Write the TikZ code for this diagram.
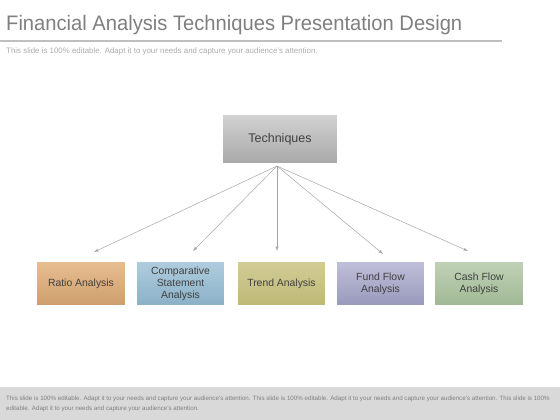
\documentclass[tikz,border=0pt]{standalone}
\usepackage{fontspec}
\setmainfont{Liberation Sans}
\usetikzlibrary{shadows}
\definecolor{titlegray}{HTML}{7F7F7F}
\definecolor{rulegray}{HTML}{BFBFBF}
\definecolor{notegray}{HTML}{ABABAB}
\definecolor{footgray}{HTML}{D9D9D9}
\definecolor{textgray}{HTML}{404040}
\tikzset{
  box/.style={draw=white,line width=1.5pt,minimum width=89pt,minimum height=45pt,
    align=center,text=textgray,font=\fontsize{10.4}{12}\selectfont,
    drop shadow={shadow xshift=0.8pt,shadow yshift=-0.8pt,opacity=0.3}},
  arr/.style={->,>=latex,draw=gray!70,line width=0.5pt}
}
\begin{document}
\begin{tikzpicture}[x=1pt,y=-1pt]
\useasboundingbox (0,0) rectangle (560,420);

% heading
\node[anchor=base west,text=titlegray,font=\fontsize{21}{24}\selectfont,inner sep=0pt] (title) at (6,31) {\scalebox{0.96}[1]{Financial Analysis Techniques Presentation Design}};
\fill[rulegray] (0,40) rectangle (502,42.5);
\node[anchor=base west,text=notegray,font=\fontsize{7.9}{9}\selectfont,inner sep=0pt] (sub) at (6,54) {This slide is 100\% editable. Adapt it to your needs and capture your audience's attention.};

% top box
\node[box,minimum width=116pt,minimum height=50pt,font=\fontsize{12.5}{14}\selectfont,top color=gray!35,bottom color=gray!68] (tech) at (280,139) {Techniques};

% bottom boxes
\node[box,top color={rgb,255:red,232;green,190;blue,146},bottom color={rgb,255:red,205;green,158;blue,108}] (ratio) at (81,283.5) {Ratio Analysis};
\node[box,top color={rgb,255:red,176;green,205;blue,222},bottom color={rgb,255:red,138;green,176;blue,198}] (comp) at (180.5,283.5) {Comparative\\Statement\\Analysis};
\node[box,top color={rgb,255:red,210;green,205;blue,150},bottom color={rgb,255:red,190;green,184;blue,118}] (trend) at (281.5,283.5) {Trend Analysis};
\node[box,top color={rgb,255:red,192;green,192;blue,218},bottom color={rgb,255:red,152;green,152;blue,188}] (fund) at (380.5,283.5) {Fund Flow\\Analysis};
\node[box,top color={rgb,255:red,192;green,210;blue,182},bottom color={rgb,255:red,160;green,184;blue,148}] (cash) at (479,283.5) {Cash Flow\\Analysis};

% arrow ends
\coordinate (eratio) at (94,252);
\coordinate (ecomp) at (193,251);
\coordinate (etrend) at (277,251);
\coordinate (efund) at (383,254);
\coordinate (ecash) at (468,251);
\coordinate (start) at (277,166);

\foreach \e in {eratio,ecomp,etrend,efund,ecash}
  \draw[arr] (start) -- (\e);

% footer
\fill[footgray] (0,387) rectangle (560,420);
\node[anchor=north west,text=gray,font=\fontsize{6.2}{10}\selectfont,inner sep=0pt,align=left] (foot) at (6,396) {This slide is 100\% editable. Adapt it to your needs and capture your audience's attention. This slide is 100\% editable. Adapt it to your needs and capture your audience's attention. This slide is 100\%\\editable. Adapt it to your needs and capture your audience's attention.};
\end{tikzpicture}
\end{document}
